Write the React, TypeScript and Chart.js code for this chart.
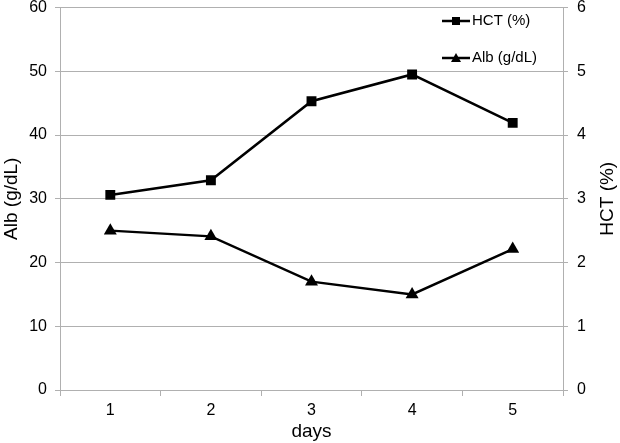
import React, { useEffect, useRef } from "react";
import { Chart, registerables } from "chart.js";

Chart.register(...registerables);

const days = ["1", "2", "3", "4", "5"];
const hctValues = [30.6, 32.9, 45.3, 49.5, 41.9];
const albValues = [25.0, 24.1, 17.0, 15.0, 22.1];
const leftTitle = "Alb (g/dL)";
const rightTitle = "HCT (%)";
const xTitle = "days";
const hctLabel = "HCT (%)";
const albLabel = "Alb (g/dL)";

const FONT = "'Liberation Sans', Arial, sans-serif";

const legendPlugin = {
  id: "customLegend",
  afterDraw(chart: any) {
    const ctx = chart.ctx;
    const items = [
      { label: hctLabel, style: "rect", y: 21 },
      { label: albLabel, style: "triangle", y: 58 },
    ];
    ctx.save();
    items.forEach((it) => {
      ctx.strokeStyle = "#000";
      ctx.lineWidth = 2.5;
      ctx.beginPath();
      ctx.moveTo(442, it.y);
      ctx.lineTo(470, it.y);
      ctx.stroke();
      ctx.fillStyle = "#000";
      if (it.style === "rect") {
        ctx.fillRect(452, it.y - 4, 8, 8);
      } else {
        ctx.beginPath();
        ctx.moveTo(456, it.y - 5);
        ctx.lineTo(461, it.y + 4);
        ctx.lineTo(451, it.y + 4);
        ctx.closePath();
        ctx.fill();
      }
      ctx.font = `15px ${FONT}`;
      ctx.textBaseline = "middle";
      ctx.textAlign = "left";
      ctx.fillText(it.label, 472, it.y);
    });
    // right axis title, reading bottom-to-top
    const area = chart.chartArea;
    ctx.translate(608, (area.top + area.bottom) / 2);
    ctx.rotate(-Math.PI / 2);
    ctx.font = `19px ${FONT}`;
    ctx.textAlign = "center";
    ctx.textBaseline = "middle";
    ctx.fillText(rightTitle, 0, 0);
    ctx.restore();
  },
};

export default function App() {
  const ref = useRef<HTMLCanvasElement>(null);
  useEffect(() => {
    document.body.style.margin = "0";
    const chart = new Chart(ref.current!, {
      type: "line",
      data: {
        labels: days,
        datasets: [
          {
            label: hctLabel,
            data: hctValues,
            borderColor: "#000",
            backgroundColor: "#000",
            borderWidth: 2.5,
            pointStyle: "rect",
            pointRadius: 7,
            pointBorderWidth: 0,
            yAxisID: "y",
          },
          {
            label: albLabel,
            data: albValues,
            borderColor: "#000",
            backgroundColor: "#000",
            borderWidth: 2.5,
            pointStyle: "triangle",
            pointRadius: 7.5,
            pointBorderWidth: 0,
            yAxisID: "y",
          },
        ],
      },
      options: {
        animation: false,
        responsive: false,
        layout: { padding: { top: 7, right: 0, left: 0, bottom: 0 } },
        plugins: { legend: { display: false }, tooltip: { enabled: false } },
        scales: {
          x: {
            offset: true,
            grid: {
              offset: true,
              drawOnChartArea: false,
              tickLength: 6,
              color: "#b0b0b0",
            },
            border: { color: "#b0b0b0" },
            ticks: { color: "#000", font: { family: FONT, size: 16 }, padding: 5 },
            title: {
              display: true,
              text: xTitle,
              color: "#000",
              font: { family: FONT, size: 19 },
              padding: { top: 0, bottom: 0 },
            },
            afterFit(scale: any) {
              scale.height = 53;
              scale.paddingLeft = 0;
              scale.paddingRight = 0;
            },
          },
          y: {
            position: "left",
            min: 0,
            max: 60,
            ticks: { stepSize: 10, color: "#000", font: { family: FONT, size: 16 }, padding: 8 },
            grid: { color: "#b0b0b0", tickLength: 5 },
            border: { color: "#b0b0b0" },
            title: {
              display: true,
              text: leftTitle,
              color: "#000",
              font: { family: FONT, size: 19 },
              padding: { top: 0, bottom: 0 },
            },
            afterFit(scale: any) {
              scale.width = 60;
              scale.paddingTop = 0;
              scale.paddingBottom = 0;
            },
          },
          y2: {
            position: "right",
            min: 0,
            max: 6,
            ticks: { stepSize: 1, color: "#000", font: { family: FONT, size: 16 }, padding: 9 },
            grid: { drawOnChartArea: false, color: "#b0b0b0", tickLength: 5 },
            border: { color: "#b0b0b0" },
            title: { display: false },
            afterFit(scale: any) {
              scale.width = 57;
              scale.paddingTop = 0;
              scale.paddingBottom = 0;
            },
          },
        },
      },
      plugins: [legendPlugin],
    });
    return () => chart.destroy();
  }, []);
  return <canvas ref={ref} width={620} height={443} style={{ display: "block" }} />;
}
